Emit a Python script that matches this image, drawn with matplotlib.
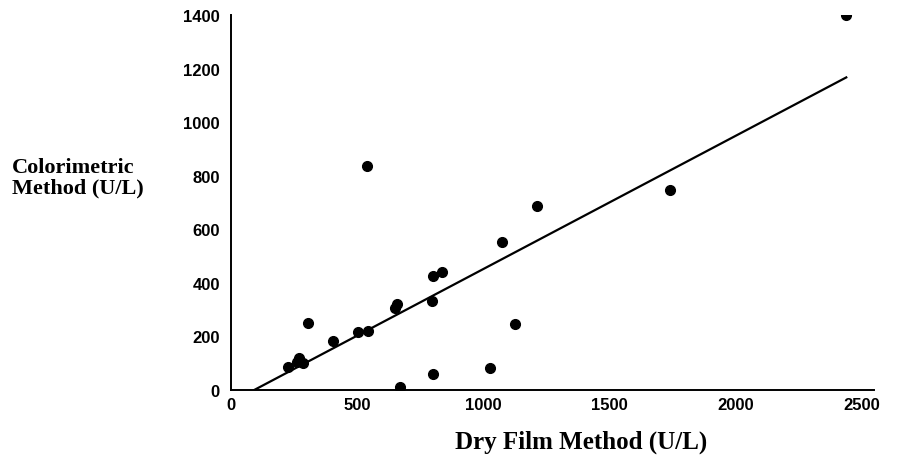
import matplotlib
matplotlib.use("Agg")
import matplotlib.pyplot as plt

# Données (U/L)
dry_film = [227, 271, 285, 261, 307, 404, 505, 545, 651, 658, 803, 836,
            796, 800, 671, 1127, 1028, 1074, 1213, 1742, 2437, 541]
colorimetric = [85, 118, 101, 106, 250, 184, 215, 219, 305, 321, 427, 439,
                333, 60, 10, 246, 81, 551, 686, 748, 1401, 835]

# Droite de régression (extrémités)
fit_x = [92, 2440]
fit_y = [0, 1167]

x_ticks = [0, 500, 1000, 1500, 2000, 2500]
y_ticks = [0, 200, 400, 600, 800, 1000, 1200, 1400]

fig = plt.figure(figsize=(9.04, 4.56), dpi=100)
ax = fig.add_axes([231 / 904, 1 - 391 / 456, 643 / 904, 375 / 456])

ax.plot(fit_x, fit_y, color="black", linewidth=1.6, zorder=2)
ax.plot(dry_film, colorimetric, "o", color="black", markersize=7, zorder=3)

ax.set_xlim(0, 2550)
ax.set_ylim(0, 1400)
ax.set_xticks(x_ticks)
ax.set_yticks(y_ticks)
ax.tick_params(length=0)
ax.tick_params(axis="y", pad=8)
ax.tick_params(axis="x", pad=5)
for lab in ax.get_xticklabels() + ax.get_yticklabels():
    lab.set_fontfamily("Liberation Sans")
    lab.set_fontweight("bold")
    lab.set_fontsize(12)

ax.spines["top"].set_visible(False)
ax.spines["right"].set_visible(False)
ax.spines["left"].set_linewidth(1.4)
ax.spines["bottom"].set_linewidth(1.4)

# Titres des axes
fig.text(581 / 904, 1 - 442 / 456, "Dry Film Method (U/L)", ha="center", va="center",
         family="Liberation Serif", fontweight="bold", fontsize=18)
fig.text(12 / 904, 1 - 178 / 456, "Colorimetric\nMethod (U/L)", ha="left", va="center",
         family="Liberation Serif", fontweight="bold", fontsize=16, linespacing=1.05)

fig.savefig("out.png", dpi=100)
